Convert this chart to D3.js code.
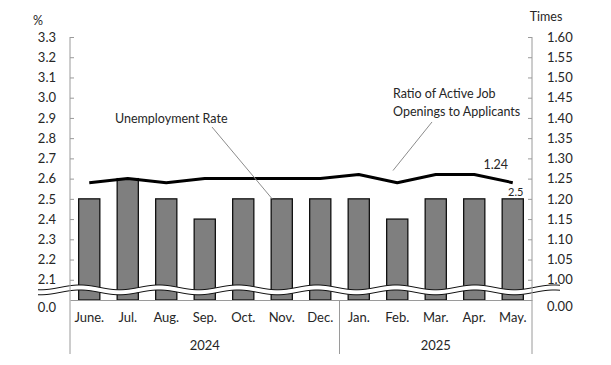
<!DOCTYPE html>
<html>
  <head>
    <meta charset="utf-8">
    <title>Unemployment Rate and Job Openings Ratio</title>
    <style>
      body {
        margin: 0;
        background: #fff;
        font-family: Lato, 'Open Sans', sans-serif;
      }
      text {
        fill: #262626;
      }
      .axis path.domain,
      .axis line,
      .frame {
        stroke: #9a9a9a;
        stroke-width: 1;
      }
      .axis text {
        font-size: 13px;
        font-family: Lato, sans-serif;
      }
      .note {
        font-size: 12.5px;
      }
    </style>
  </head>
  <body>
    <svg width="611" height="365"></svg>
    <script src="https://d3js.org/d3.v7.min.js"></script>
    <script>
      const months = ['June.', 'Jul.', 'Aug.', 'Sep.', 'Oct.', 'Nov.', 'Dec.',
        'Jan.', 'Feb.', 'Mar.', 'Apr.', 'May.'];
      const years = [
        { label: '2024', from: 'June.', to: 'Dec.' },
        { label: '2025', from: 'Jan.', to: 'May.' },
      ];
      const unemployment = [2.5, 2.6, 2.5, 2.4, 2.5, 2.5, 2.5, 2.5, 2.4, 2.5, 2.5, 2.5];
      const jobRatio = [1.24, 1.25, 1.24, 1.25, 1.25, 1.25, 1.25, 1.26, 1.24, 1.26, 1.26, 1.24];
      const leftTicks = [2.1, 2.2, 2.3, 2.4, 2.5, 2.6, 2.7, 2.8, 2.9, 3.0, 3.1, 3.2, 3.3];
      const rightTicks = [1.00, 1.05, 1.10, 1.15, 1.20, 1.25, 1.30, 1.35, 1.40, 1.45, 1.50, 1.55, 1.60];

      const svg = d3.select('svg');
      const plotLeft = 70, plotRight = 532, plotTop = 37, base = 300, plotBottom = 354;

      const x = d3.scaleBand()
        .domain(months)
        .range([plotLeft, plotRight])
        .paddingInner(0.45)
        .paddingOuter(0.225);
      // axis is broken: the bottom of each scale stands for zero
      const yL = d3.scaleLinear().domain([2.0, 3.3]).range([base, plotTop]);
      const yR = d3.scaleLinear().domain([0.95, 1.60]).range([base, plotTop]);
      const cx = (d) => x(d) + x.bandwidth() / 2;
      const gap = (x.step() - x.bandwidth()) / 2;

      // bars
      svg.append('g')
        .selectAll('rect')
        .data(months)
        .enter().append('rect')
          .attr('x', (d) => x(d))
          .attr('y', (d, i) => yL(unemployment[i]))
          .attr('width', x.bandwidth())
          .attr('height', (d, i) => base - yL(unemployment[i]))
          .attr('fill', '#7f7f7f')
          .attr('stroke', '#111')
          .attr('stroke-width', 1.3);

      // break marker
      const waveY = yL(2.05);
      const waveX = d3.range(38, 561, 1);
      const wave = (xx) => waveY - 2.4 * Math.cos(2 * Math.PI * (xx - 80) / 79);
      svg.append('path')
        .datum(waveX)
        .attr('d', d3.area().x((d) => d).y0((d) => wave(d) - 2.5).y1((d) => wave(d) + 2.5))
        .attr('fill', '#fff');
      [-2.5, 2.5].forEach((off) => {
        svg.append('path')
          .datum(waveX)
          .attr('d', d3.line().x((d) => d).y((d) => wave(d) + off))
          .attr('fill', 'none')
          .attr('stroke', '#111')
          .attr('stroke-width', 1);
      });

      // axes
      svg.append('g')
        .attr('class', 'axis')
        .attr('transform', `translate(${plotLeft},0)`)
        .call(d3.axisLeft(yL).tickValues(leftTicks).tickSize(-4).tickSizeOuter(0)
          .tickPadding(14).tickFormat(d3.format('.1f')))
        .call((g) => g.select('.domain').remove());

      svg.append('g')
        .attr('class', 'axis')
        .attr('transform', `translate(${plotRight},0)`)
        .call(d3.axisRight(yR).tickValues(rightTicks).tickSize(-4).tickSizeOuter(0)
          .tickPadding(15).tickFormat(d3.format('.2f')))
        .call((g) => g.select('.domain').remove());

      svg.append('g')
        .attr('class', 'axis')
        .attr('transform', `translate(0,${base})`)
        .call(d3.axisBottom(x).tickSize(0).tickSizeOuter(0).tickPadding(13))
        .call((g) => g.selectAll('text').attr('font-size', 13));

      const sepX = [plotLeft, x('Jan.') - gap, plotRight];
      svg.append('g')
        .selectAll('line')
        .data(sepX)
        .enter().append('line')
          .attr('class', 'frame')
          .attr('x1', (d) => d).attr('x2', (d) => d)
          .attr('y1', (d, i) => (i === 1 ? base : plotTop))
          .attr('y2', plotBottom);

      svg.append('g')
        .selectAll('text')
        .data(years)
        .enter().append('text')
          .attr('x', (d) => (x(d.from) - gap + x(d.to) + x.bandwidth() + gap) / 2)
          .attr('y', 350)
          .attr('text-anchor', 'middle')
          .attr('font-size', 13)
          .text((d) => d.label);

      // zero labels under the break
      svg.append('text')
        .attr('x', plotLeft - 14).attr('y', base + 12)
        .attr('text-anchor', 'end').attr('font-size', 13)
        .text('0.0');
      svg.append('text')
        .attr('x', plotRight + 15).attr('y', base + 11)
        .attr('font-size', 13)
        .text('0.00');

      // units
      svg.append('text').attr('x', 38).attr('y', 25)
        .attr('text-anchor', 'middle').attr('font-size', 12.5).text('%');
      svg.append('text').attr('x', 546).attr('y', 21)
        .attr('text-anchor', 'middle').attr('font-size', 12.5).text('Times');

      // ratio line
      svg.append('path')
        .datum(months)
        .attr('d', d3.line().x((d) => cx(d)).y((d, i) => yR(jobRatio[i])))
        .attr('fill', 'none')
        .attr('stroke', '#000')
        .attr('stroke-width', 3)
        .attr('stroke-linejoin', 'round');

      // value labels for the last month
      const last = months[months.length - 1];
      svg.append('text')
        .attr('x', cx(last) - 17).attr('y', yR(jobRatio[11]) - 14)
        .attr('text-anchor', 'middle').attr('font-size', 12.5)
        .text(jobRatio[11].toFixed(2));
      svg.append('text')
        .attr('x', cx(last) + 3).attr('y', yL(unemployment[11]) - 3)
        .attr('text-anchor', 'middle').attr('font-size', 11)
        .text(unemployment[11].toFixed(1));

      // annotations
      svg.append('text')
        .attr('class', 'note')
        .attr('x', 115).attr('y', yL(2.875))
        .text('Unemployment Rate');
      svg.append('line')
        .attr('x1', 212).attr('y1', yL(2.855))
        .attr('x2', x('Nov.') + 1).attr('y2', yL(unemployment[5]))
        .attr('stroke', '#8c8c8c');

      const ratioNote = svg.append('text')
        .attr('class', 'note')
        .attr('x', 393).attr('y', yR(1.45));
      ratioNote.append('tspan').attr('x', 393).text('Ratio of Active Job');
      ratioNote.append('tspan').attr('x', 393).attr('dy', 18).text('Openings to Applicants');
      svg.append('line')
        .attr('x1', 432).attr('y1', yR(1.39))
        .attr('x2', 393).attr('y2', yR(1.27))
        .attr('stroke', '#8c8c8c');
    </script>
  </body>
</html>
